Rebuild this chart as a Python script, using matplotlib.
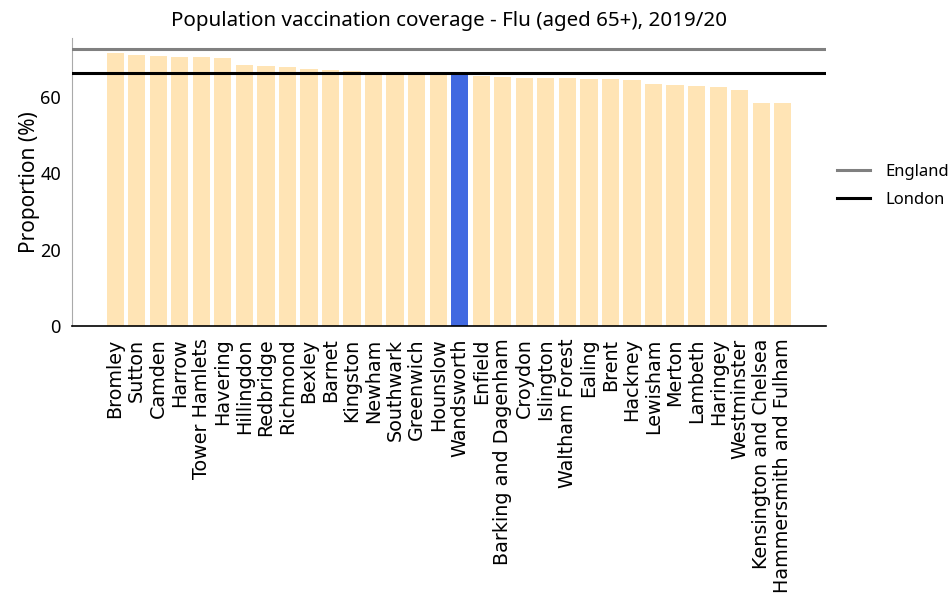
import matplotlib
matplotlib.use("Agg")
import matplotlib.pyplot as plt
import numpy as np

boroughs = ["Bromley", "Sutton", "Camden", "Harrow", "Tower Hamlets", "Havering",
            "Hillingdon", "Redbridge", "Richmond", "Bexley", "Barnet", "Kingston",
            "Newham", "Southwark", "Greenwich", "Hounslow", "Wandsworth", "Enfield",
            "Barking and Dagenham", "Croydon", "Islington", "Waltham Forest", "Ealing",
            "Brent", "Hackney", "Lewisham", "Merton", "Lambeth", "Haringey",
            "Westminster", "Kensington and Chelsea", "Hammersmith and Fulham"]
values = [71.5, 71.0, 70.7, 70.5, 70.5, 70.1,
          68.3, 68.1, 67.7, 67.3, 67.0, 66.8,
          66.3, 66.2, 66.0, 65.9, 65.6, 65.5,
          65.1, 65.0, 64.8, 64.8, 64.7,
          64.7, 64.4, 63.4, 63.2, 62.7, 62.6,
          61.8, 58.5, 58.3]
highlight = "Wandsworth"
england = 72.5
london = 66.3
title = "Population vaccination coverage - Flu (aged 65+), 2019/20"

fig = plt.figure(figsize=(9.53, 5.97), dpi=100)
ax = fig.add_axes([0.0756, 0.454, 0.791, 0.483])

x = np.arange(len(boroughs))
colors = ["#4169E1" if b == highlight else "#FFE4B5" for b in boroughs]
ax.bar(x, values, width=0.8, color=colors, zorder=2)
ax.axhline(england, color="#808080", lw=2.2, label="England", zorder=3)
ax.axhline(london, color="black", lw=2.2, label="London", zorder=3)

ax.set_xlim(-2, 33)
ax.set_ylim(0, 75.5)
ax.set_xticks(x)
ax.set_xticklabels(boroughs, rotation=90, fontsize=13.8, family="DejaVu Sans")
ax.set_yticks([0, 20, 40, 60])
ax.tick_params(axis="both", length=0)
ax.tick_params(axis="x", pad=9)
ax.tick_params(axis="y", pad=8)
for lab in ax.get_yticklabels():
    lab.set_fontfamily("Noto Sans")
    lab.set_fontsize(13)
ax.set_ylabel("Proportion (%)", fontsize=15, family="Noto Sans", labelpad=0)
ax.set_title(title, fontsize=14.8, family="Noto Sans", pad=8)

for s in ["top", "right"]:
    ax.spines[s].set_visible(False)
ax.spines["left"].set_color("#aaaaaa")
ax.spines["bottom"].set_color("black")
ax.spines["bottom"].set_linewidth(1.2)

leg = ax.legend(loc="center left", bbox_to_anchor=(0.995, 0.485), frameon=False,
                prop={"family": "Noto Sans", "size": 12}, handlelength=2.0,
                handletextpad=0.9, labelspacing=0.7)

fig.savefig("out.png", dpi=100)
